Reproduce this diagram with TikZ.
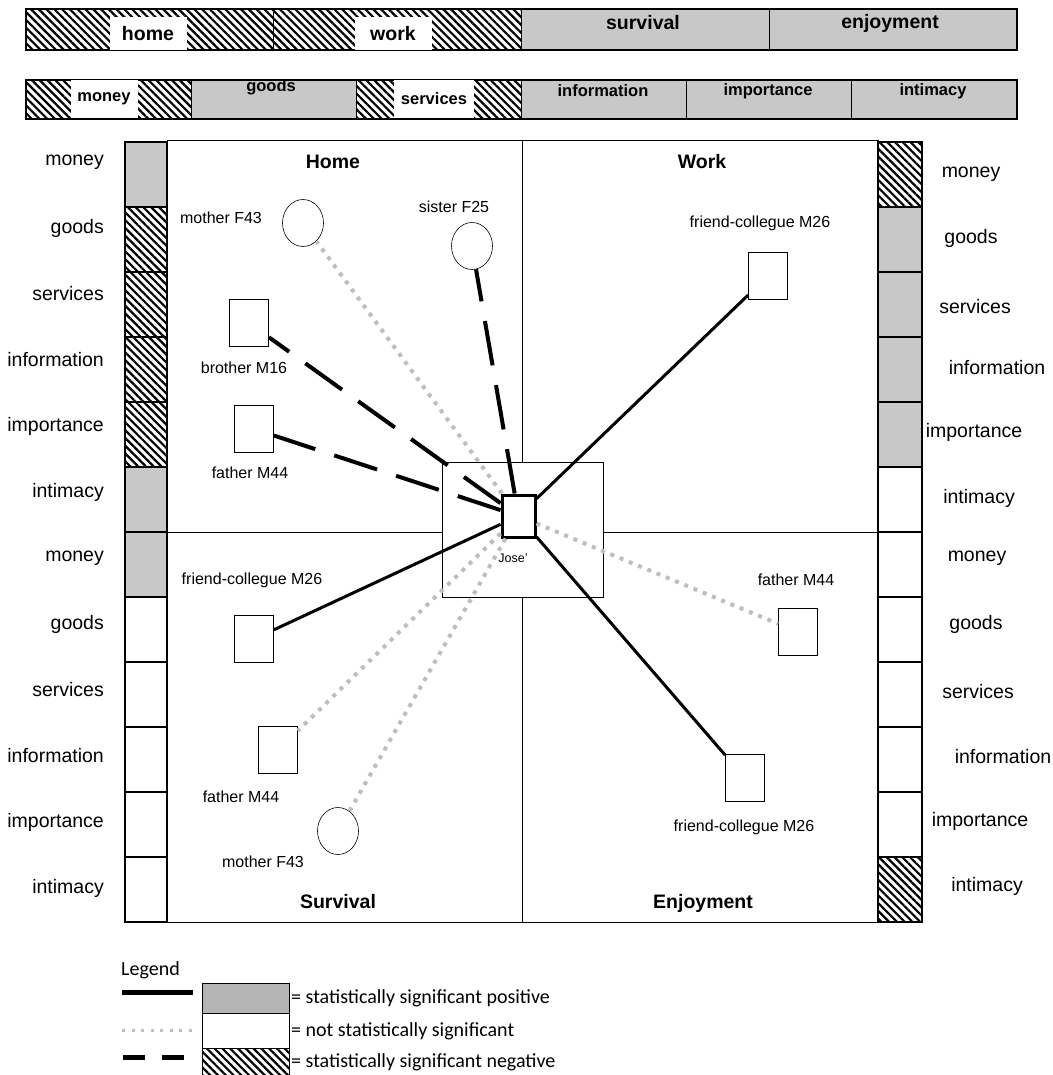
\documentclass[tikz,border=0pt]{standalone}
\usepackage{fontspec}
\setmainfont{Liberation Sans}
\newfontfamily\legendfont{Carlito}
\usetikzlibrary{patterns.meta,shapes.geometric}
\definecolor{cellgray}{RGB}{200,200,200}
\definecolor{keygray}{RGB}{180,180,180}
\definecolor{dotgray}{RGB}{190,190,190}
\tikzset{
  cell/.style={draw, line width=2.2pt},
  cellpos/.style={fill=cellgray},
  cellneg/.style={pattern={Lines[angle=-45,distance=5.5pt,line width=2.2pt]}},
  cellnon/.style={fill=white},
  barseg/.style={draw, line width=1.2pt},
  patch/.style={fill=white, inner sep=0pt},
  bigbar/.style={font=\bfseries\fontsize{19.5}{22}\selectfont},
  smallbar/.style={font=\bfseries\fontsize{16.5}{19}\selectfont},
  quadtitle/.style={font=\bfseries\fontsize{19.5}{22}\selectfont},
  sidelabel/.style={font=\fontsize{19.5}{22}\selectfont, inner sep=0pt},
  personlabel/.style={font=\fontsize{16}{18}\selectfont, inner sep=0pt},
  male/.style={draw, fill=white, line width=0.8pt, minimum width=39pt,
    minimum height=47pt, inner sep=0pt},
  female/.style={male, ellipse, minimum width=41pt, line width=0.6pt},
  jose/.style={draw, fill=white, line width=3pt, minimum width=33pt,
    minimum height=42pt, inner sep=0pt},
  posline/.style={line width=3pt},
  negline/.style={line width=4pt, dash pattern=on 45pt off 20pt},
  nonline/.style={dotgray, line width=4pt, dash pattern=on 4pt off 6pt},
  legendtext/.style={font=\legendfont\fontsize{20}{23}\selectfont, inner sep=0pt}
}
\begin{document}
\begin{tikzpicture}[x=1pt, y=-1pt]
  \useasboundingbox (0,0) rectangle (1052,1075);

  % domain bar
  \foreach \f [count=\i from 0] in {cellneg,cellneg,cellpos,cellpos}
    \draw[barseg, \f] (26+247.75*\i,9) rectangle ++(247.75,41);
  \node[patch, bigbar, minimum width=77pt, minimum height=33pt] (home) at (148,33.5) {home};
  \node[patch, bigbar, minimum width=77pt, minimum height=33pt] (work) at (393,33.5) {work};
  \node[bigbar] (survival) at (643,23) {survival};
  \node[bigbar] (enjoyment) at (890,23) {enjoyment};

  % resource bar
  \foreach \f [count=\i from 0] in {cellneg,cellpos,cellneg,cellpos,cellpos,cellpos}
    \draw[barseg, \f] (26+165.17*\i,80) rectangle ++(165.17,39);
  \node[patch, smallbar, minimum width=67pt, minimum height=38pt] (money) at (104,99) {money};
  \node[smallbar] (goods) at (271,87) {goods};
  \node[patch, smallbar, minimum width=80pt, minimum height=38pt] (services) at (434,99) {services};
  \node[smallbar] (information) at (603,91) {information};
  \node[smallbar] (importance) at (768,91) {importance};
  \node[smallbar] (intimacy) at (933,91) {intimacy};

  % quadrants
  \draw[line width=1pt] (167,141) rectangle (878,922);
  \draw[line width=1pt] (522,141) -- (522,922);
  \draw[line width=1pt] (167,532) -- (878,532);
  \node[quadtitle] (qhome) at (333,162) {Home};
  \node[quadtitle] (qwork) at (702,162) {Work};
  \node[quadtitle] (qsurvival) at (338,902) {Survival};
  \node[quadtitle] (qenjoyment) at (703,903) {Enjoyment};

  % side columns
  \foreach \f [count=\i from 0] in {cellpos,cellneg,cellneg,cellneg,cellneg,cellpos,
      cellpos,cellnon,cellnon,cellnon,cellnon,cellnon}
    \draw[cell, \f] (125,142+65*\i) rectangle ++(42,65);
  \foreach \f [count=\i from 0] in {cellneg,cellpos,cellpos,cellpos,cellpos,cellnon,
      cellnon,cellnon,cellnon,cellnon,cellnon,cellneg}
    \draw[cell, \f] (878,142+65*\i) rectangle ++(44,65);
  \foreach \name [count=\i from 0] in {money,goods,services,information,importance,intimacy,
      money,goods,services,information,importance,intimacy}
    \node[sidelabel, anchor=east] (left\i) at (104,162+66*\i) {\name};
  \foreach \x/\y/\name [count=\i from 0] in {971/174/money, 971/238/goods, 975/307/services,
      997/368/information, 974/432/importance, 979/498/intimacy,
      977/558/money, 976/624/goods, 978/692/services, 1003/757/information,
      980/821/importance, 987/886/intimacy}
    \node[sidelabel] (right\i) at (\x,\y) {\name};

  % ego
  \node[draw, fill=white, line width=0.8pt, minimum width=161pt,
    minimum height=135pt, inner sep=0pt] (centre) at (522.5,529.5) {};
  \node[jose] (jose) at (518.5,516) {};
  \node[personlabel, font=\fontsize{12.5}{15}\selectfont] (joselabel) at (513,558) {Jose'};

  % alters
  \node[female] (hmother) at (303,223) {};
  \node[personlabel] (hmotherlabel) at (221,218) {mother F43};
  \node[female] (hsister) at (472,246) {};
  \node[personlabel] (hsisterlabel) at (454,207) {sister F25};
  \node[male] (hbrother) at (249,323) {};
  \node[personlabel] (hbrotherlabel) at (244,368) {brother M16};
  \node[male] (hfather) at (254,429) {};
  \node[personlabel] (hfatherlabel) at (250,473) {father M44};
  \node[male] (wfriend) at (768,276) {};
  \node[personlabel] (wfriendlabel) at (760,223) {friend-collegue M26};
  \node[male] (sfriend) at (254,639) {};
  \node[personlabel] (sfriendlabel) at (252,580) {friend-collegue M26};
  \node[male] (sfather) at (278,750) {};
  \node[personlabel] (sfatherlabel) at (241,797) {father M44};
  \node[female] (smother) at (338,831) {};
  \node[personlabel] (smotherlabel) at (263,862) {mother F43};
  \node[male] (efather) at (798,632) {};
  \node[personlabel] (efatherlabel) at (796,580) {father M44};
  \node[male] (efriend) at (745,778) {};
  \node[personlabel] (efriendlabel) at (744,827) {friend-collegue M26};

  % ties
  \draw[nonline] (jose) -- (hmother);
  \draw[negline] (jose) -- (hsister);
  \draw[negline] (jose) -- (hbrother);
  \draw[negline] (jose) -- (hfather);
  \draw[posline] (jose) -- (wfriend);
  \draw[posline] (jose) -- (sfriend);
  \draw[nonline] (jose) -- (sfather);
  \draw[nonline] (jose) -- (smother);
  \draw[nonline] (jose) -- (efather);
  \draw[posline] (jose) -- (efriend);

  % legend
  \node[legendtext, anchor=west] (legtitle) at (121,970) {Legend};
  \coordinate (keyposa) at (122,992);
  \coordinate (keyposb) at (193,992);
  \coordinate (keynona) at (122,1030);
  \coordinate (keynonb) at (192,1030);
  \coordinate (keynega) at (123,1057);
  \coordinate (keynegb) at (184,1057);
  \draw[line width=5pt] (keyposa) -- (keyposb);
  \draw[nonline, line width=3pt, dash pattern=on 3pt off 6.5pt] (keynona) -- (keynonb);
  \draw[line width=5pt, dash pattern=on 22pt off 17pt] (keynega) -- (keynegb);
  \draw[line width=1pt, fill=keygray] (202,983) rectangle (289,1013);
  \draw[line width=1pt, fill=white] (202,1013) rectangle (289,1048);
  \draw[line width=1pt, cellneg] (202,1048) rectangle (289,1080);
  \node[legendtext, anchor=west] (keypos) at (291,998) {= statistically significant positive};
  \node[legendtext, anchor=west] (keynon) at (291,1031) {= not statistically significant};
  \node[legendtext, anchor=west] (keyneg) at (291,1062) {= statistically significant negative};
\end{tikzpicture}
\end{document}
